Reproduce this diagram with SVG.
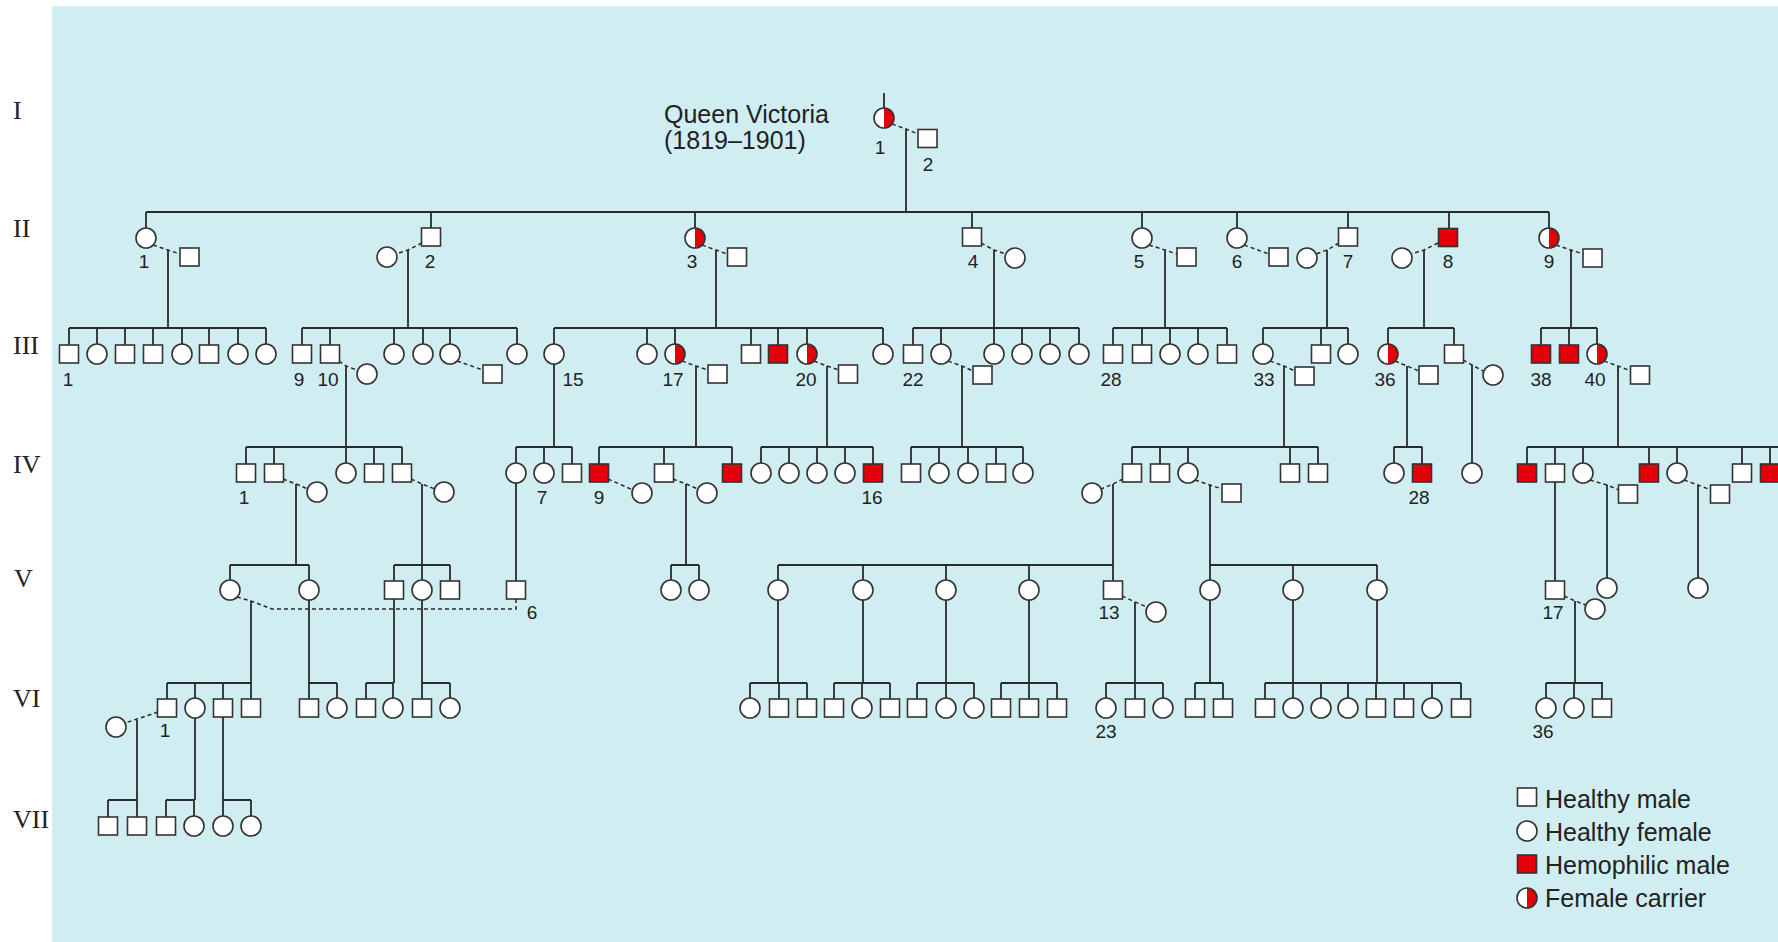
<svg xmlns="http://www.w3.org/2000/svg" xmlns:xlink="http://www.w3.org/1999/xlink" width="1778" height="942" viewBox="0 0 1778 942">
<style>
.ln{stroke:#2a2a2a;stroke-width:1.8;fill:none}
.ds{stroke:#2a2a2a;stroke-width:1.5;stroke-dasharray:4 3;fill:none}
.num{font-family:"Liberation Sans",Arial,sans-serif;font-size:19px;fill:#222;text-anchor:middle}
.rom{font-family:"Liberation Serif","Times New Roman",serif;font-size:26px;fill:#222}
.big{font-family:"Liberation Sans",Arial,sans-serif;font-size:25px;fill:#222}
</style>
<defs>
<rect id="M" x="-9.5" y="-9" width="19" height="18" fill="#fff" stroke="#333" stroke-width="1.6"/>
<rect id="H" x="-9.5" y="-9" width="19" height="18" fill="#e3000b" stroke="#333" stroke-width="1.6"/>
<circle id="F" r="10" fill="#fff" stroke="#333" stroke-width="1.6"/>
<g id="C"><circle r="10" fill="#fff"/><path d="M0,-10A10,10 0 0 1 0,10Z" fill="#e3000b"/><circle r="10" fill="none" stroke="#333" stroke-width="1.6"/></g>
</defs>
<rect width="1778" height="942" fill="#fff"/>
<rect x="52" y="6" width="1726" height="936" fill="#d0eef2"/>
<g id="gen-labels">
<text class="rom" x="13" y="119">I</text>
<text class="rom" x="13" y="237">II</text>
<text class="rom" x="13" y="354">III</text>
<text class="rom" x="13" y="473">IV</text>
<text class="rom" x="14" y="587">V</text>
<text class="rom" x="13" y="707">VI</text>
<text class="rom" x="13" y="828">VII</text>
</g>
<g id="title"><text class="big" x="664" y="123">Queen Victoria</text><text class="big" x="664" y="149">(1819–1901)</text></g>
<g id="connectors">
<path class="ln" d="M884,93V108 M906,129V212 M146,212H1549 M146,212V228 M431,212V228 M695,212V228 M972,212V228 M1142,212V228 M1237,212V228 M1348,212V228 M1449,212V228 M1549,212V228"/>
<path class="ln" d="M168,250V328 M408,250V328 M716,250V328 M994,250V328 M1165,250V328 M1327,250V328 M1424,250V328 M1571,250V328"/>
<path class="ln" d="M69,328H266 M302,328H517 M554,328H883 M913,328H1079 M1113,328H1227 M1263,328H1348 M1388,328H1454 M1541,328H1597"/>
<path class="ln" d="M69,328V345 M97,328V345 M125,328V345 M153,328V345 M182,328V345 M209,328V345 M238,328V345 M266,328V345 M302,328V345 M330,328V345 M394,328V345 M423,328V345 M450,328V345 M517,328V345 M554,328V345 M647,328V345 M675,328V345 M751,328V345 M778,328V345 M807,328V345 M883,328V345 M913,328V345 M941,328V345 M994,328V345 M1022,328V345 M1050,328V345 M1079,328V345 M1113,328V345 M1142,328V345 M1170,328V345 M1198,328V345 M1227,328V345 M1263,328V345 M1321,328V345 M1348,328V345 M1388,328V345 M1454,328V345 M1541,328V345 M1569,328V345 M1597,328V345"/>
<path class="ln" d="M346,366V447 M554,364V447 M696,366V447 M827,366V447 M962,366V447 M1284,366V447 M1407,366V447 M1472,365V463 M1618,366V447"/>
<path class="ln" d="M246,447H402 M516,447H572 M599,447H732 M761,447H873 M911,447H1023 M1132,447H1318 M1394,447H1422 M1527,447H1778"/>
<path class="ln" d="M246,447V464 M274,447V464 M346,447V464 M374,447V464 M402,447V464 M516,447V464 M544,447V464 M572,447V464 M599,447V464 M664,447V464 M732,447V464 M761,447V464 M789,447V464 M817,447V464 M845,447V464 M873,447V464 M911,447V464 M939,447V464 M968,447V464 M996,447V464 M1023,447V464 M1132,447V464 M1160,447V464 M1188,447V464 M1290,447V464 M1318,447V464 M1394,447V464 M1422,447V464 M1527,447V464 M1555,447V464 M1583,447V464 M1649,447V464 M1677,447V464 M1742,447V464 M1770,447V464"/>
<path class="ln" d="M296,484V565 M422,484V565 M516,483V581 M686,484V565 M1113,484V565 M1210,485V565 M1555,482V581 M1607,485V578 M1698,485V578"/>
<path class="ln" d="M230,565H309 M394,565H450 M671,565H699 M778,565H1113 M1210,565H1377"/>
<path class="ln" d="M230,565V580 M309,565V580 M394,565V581 M422,565V580 M450,565V581 M671,565V580 M699,565V580 M778,565V580 M863,565V580 M946,565V580 M1029,565V580 M1113,565V581 M1210,565V580 M1293,565V580 M1377,565V580"/>
<path class="ln" d="M251,601V683 M309,600V683 M394,599V683 M422,600V683 M778,600V683 M863,600V683 M946,600V683 M1029,600V683 M1135,602V683 M1210,600V683 M1293,600V683 M1377,600V683 M1575,601V683"/>
<path class="ln" d="M167,683H251 M309,683H337 M366,683H394 M422,683H450 M750,683H807 M834,683H890 M917,683H974 M1001,683H1057 M1106,683H1163 M1195,683H1223 M1265,683H1461 M1546,683H1603"/>
<path class="ln" d="M167,683V699 M195,683V699 M223,683V699 M251,683V699 M309,683V699 M337,683V699 M366,683V699 M393,683V699 M422,683V699 M450,683V699 M750,683V699 M779,683V699 M807,683V699 M834,683V699 M862,683V699 M890,683V699 M917,683V699 M946,683V699 M974,683V699 M1001,683V699 M1029,683V699 M1057,683V699 M1106,683V699 M1135,683V699 M1163,683V699 M1195,683V699 M1223,683V699 M1265,683V699 M1293,683V699 M1321,683V699 M1348,683V699 M1376,683V699 M1404,683V699 M1432,683V699 M1461,683V699 M1546,683V699 M1574,683V699 M1602,683V699"/>
<path class="ln" d="M137,720V800 M195,718V800 M223,717V800"/>
<path class="ln" d="M108,800H137 M166,800H194 M223,800H251 M108,800V817 M137,800V817 M166,800V817 M194,800V816 M223,800V816 M251,800V816"/>
<path class="ds" d="M892,124L906,129L918,134 M153,245L168,250L180,254 M422,243L408,250L396,254 M702,245L716,250L727,254 M981,243L994,250L1006,254 M1149,245L1165,250L1177,254 M1244,245L1269,254 M1339,243L1327,250L1316,254 M1438,243L1424,250L1411,254 M1556,245L1571,250L1583,254"/>
<path class="ds" d="M339,361L346,366L357,370 M457,361L483,370 M682,361L696,366L708,370 M814,361L827,366L839,370 M948,361L962,366L973,371 M1270,361L1284,366L1295,371 M1395,361L1407,366L1419,371 M1463,360L1472,365L1483,371 M1604,361L1618,366L1631,371"/>
<path class="ds" d="M283,479L296,484L308,489 M411,479L422,484L435,489 M608,479L633,490 M673,479L686,484L698,489 M1123,479L1113,484L1101,489 M1195,480L1210,485L1222,489 M1590,480L1607,485L1619,490 M1684,480L1698,485L1711,490"/>
<path class="ds" d="M237,597L251,601L272,609H516V599 M1122,596L1135,602L1147,607 M1564,596L1575,601L1586,605 M158,712L137,719L125,723"/>
</g>
<g id="I-1"><use href="#C" x="884" y="118"/><text class="num" x="880" y="154">1</text></g>
<g id="I-2"><use href="#M" x="927.5" y="138.5"/><text class="num" x="928" y="171">2</text></g>
<g id="II-1"><use href="#F" x="146" y="238"/><text class="num" x="144" y="268">1</text></g>
<g id="II-1-sp"><use href="#M" x="189.5" y="257"/></g>
<g id="II-2"><use href="#M" x="431" y="237"/><text class="num" x="430" y="268">2</text></g>
<g id="II-2-sp"><use href="#F" x="387" y="257"/></g>
<g id="II-3"><use href="#C" x="695" y="238"/><text class="num" x="692" y="268">3</text></g>
<g id="II-3-sp"><use href="#M" x="737" y="257"/></g>
<g id="II-4"><use href="#M" x="972" y="237"/><text class="num" x="973" y="268">4</text></g>
<g id="II-4-sp"><use href="#F" x="1015" y="258"/></g>
<g id="II-5"><use href="#F" x="1142" y="238"/><text class="num" x="1139" y="268">5</text></g>
<g id="II-5-sp"><use href="#M" x="1186.5" y="257"/></g>
<g id="II-6"><use href="#F" x="1237" y="238"/><text class="num" x="1237" y="268">6</text></g>
<g id="II-6-sp"><use href="#M" x="1278.5" y="257"/></g>
<g id="II-7"><use href="#M" x="1348" y="237"/><text class="num" x="1348" y="268">7</text></g>
<g id="II-7-sp"><use href="#F" x="1307" y="258"/></g>
<g id="II-8"><use href="#H" x="1448" y="237.5"/><text class="num" x="1448" y="268">8</text></g>
<g id="II-8-sp"><use href="#F" x="1402" y="258"/></g>
<g id="II-9"><use href="#C" x="1549" y="238"/><text class="num" x="1549" y="268">9</text></g>
<g id="II-9-sp"><use href="#M" x="1592.5" y="258"/></g>
<g id="III-1"><use href="#M" x="69" y="354"/><text class="num" x="68" y="386">1</text></g>
<g id="III-2"><use href="#F" x="97" y="354"/></g>
<g id="III-3"><use href="#M" x="125" y="354"/></g>
<g id="III-4"><use href="#M" x="153" y="354"/></g>
<g id="III-5"><use href="#F" x="182" y="354"/></g>
<g id="III-6"><use href="#M" x="209" y="354"/></g>
<g id="III-7"><use href="#F" x="238" y="354"/></g>
<g id="III-8"><use href="#F" x="266" y="354"/></g>
<g id="III-9"><use href="#M" x="302" y="354"/><text class="num" x="299" y="386">9</text></g>
<g id="III-10"><use href="#M" x="330" y="354"/><text class="num" x="328" y="386">10</text></g>
<g id="III-10-sp"><use href="#F" x="367" y="374"/></g>
<g id="III-11"><use href="#F" x="394" y="354"/></g>
<g id="III-12"><use href="#F" x="423" y="354"/></g>
<g id="III-13"><use href="#F" x="450" y="354"/></g>
<g id="III-13-sp"><use href="#M" x="492.5" y="374"/></g>
<g id="III-14"><use href="#F" x="517" y="354"/></g>
<g id="III-15"><use href="#F" x="554" y="354"/><text class="num" x="573" y="386">15</text></g>
<g id="III-16"><use href="#F" x="647" y="354"/></g>
<g id="III-17"><use href="#C" x="675" y="354"/><text class="num" x="673" y="386">17</text></g>
<g id="III-17-sp"><use href="#M" x="717.5" y="374"/></g>
<g id="III-18"><use href="#M" x="751" y="354"/></g>
<g id="III-19"><use href="#H" x="778" y="354"/></g>
<g id="III-20"><use href="#C" x="807" y="354"/><text class="num" x="806" y="386">20</text></g>
<g id="III-20-sp"><use href="#M" x="848" y="374"/></g>
<g id="III-21"><use href="#F" x="883" y="354"/></g>
<g id="III-22"><use href="#M" x="913" y="354"/><text class="num" x="913" y="386">22</text></g>
<g id="III-23"><use href="#F" x="941" y="354"/></g>
<g id="III-23-sp"><use href="#M" x="982.5" y="375"/></g>
<g id="III-24"><use href="#F" x="994" y="354"/></g>
<g id="III-25"><use href="#F" x="1022" y="354"/></g>
<g id="III-26"><use href="#F" x="1050" y="354"/></g>
<g id="III-27"><use href="#F" x="1079" y="354"/></g>
<g id="III-28"><use href="#M" x="1113" y="354"/><text class="num" x="1111" y="386">28</text></g>
<g id="III-29"><use href="#M" x="1142" y="354"/></g>
<g id="III-30"><use href="#F" x="1170" y="354"/></g>
<g id="III-31"><use href="#F" x="1198" y="354"/></g>
<g id="III-32"><use href="#M" x="1227" y="354"/></g>
<g id="III-33"><use href="#F" x="1263" y="354"/><text class="num" x="1264" y="386">33</text></g>
<g id="III-33-sp"><use href="#M" x="1304.5" y="376"/></g>
<g id="III-34"><use href="#M" x="1321" y="354"/></g>
<g id="III-35"><use href="#F" x="1348" y="354"/></g>
<g id="III-36"><use href="#C" x="1388" y="354"/><text class="num" x="1385" y="386">36</text></g>
<g id="III-36-sp"><use href="#M" x="1428.5" y="375"/></g>
<g id="III-37"><use href="#M" x="1454" y="354"/></g>
<g id="III-37-sp"><use href="#F" x="1493" y="375"/></g>
<g id="III-38"><use href="#H" x="1541" y="354"/><text class="num" x="1541" y="386">38</text></g>
<g id="III-39"><use href="#H" x="1569" y="354"/></g>
<g id="III-40"><use href="#C" x="1597" y="354"/><text class="num" x="1595" y="386">40</text></g>
<g id="III-40-sp"><use href="#M" x="1640" y="375"/></g>
<g id="IV-1"><use href="#M" x="246" y="473"/><text class="num" x="244" y="504">1</text></g>
<g id="IV-2"><use href="#M" x="274" y="473"/></g>
<g id="IV-2-sp"><use href="#F" x="317" y="492"/></g>
<g id="IV-3"><use href="#F" x="346" y="473"/></g>
<g id="IV-4"><use href="#M" x="374" y="473"/></g>
<g id="IV-5"><use href="#M" x="402" y="473"/></g>
<g id="IV-5-sp"><use href="#F" x="444" y="492"/></g>
<g id="IV-6"><use href="#F" x="516" y="473"/></g>
<g id="IV-7"><use href="#F" x="544" y="473"/><text class="num" x="542" y="504">7</text></g>
<g id="IV-8"><use href="#M" x="572" y="473"/></g>
<g id="IV-9"><use href="#H" x="599" y="473"/><text class="num" x="599" y="504">9</text></g>
<g id="IV-9-sp"><use href="#F" x="642" y="493"/></g>
<g id="IV-10"><use href="#M" x="664" y="473"/></g>
<g id="IV-10-sp"><use href="#F" x="707" y="493"/></g>
<g id="IV-11"><use href="#H" x="732" y="473"/></g>
<g id="IV-12"><use href="#F" x="761" y="473"/></g>
<g id="IV-13"><use href="#F" x="789" y="473"/></g>
<g id="IV-14"><use href="#F" x="817" y="473"/></g>
<g id="IV-15"><use href="#F" x="845" y="473"/></g>
<g id="IV-16"><use href="#H" x="873" y="473"/><text class="num" x="872" y="504">16</text></g>
<g id="IV-17"><use href="#M" x="911" y="473"/></g>
<g id="IV-18"><use href="#F" x="939" y="473"/></g>
<g id="IV-19"><use href="#F" x="968" y="473"/></g>
<g id="IV-20"><use href="#M" x="996" y="473"/></g>
<g id="IV-21"><use href="#F" x="1023" y="473"/></g>
<g id="IV-22"><use href="#M" x="1132" y="473"/></g>
<g id="IV-22-sp"><use href="#F" x="1092" y="493"/></g>
<g id="IV-23"><use href="#M" x="1160" y="473"/></g>
<g id="IV-24"><use href="#F" x="1188" y="473"/></g>
<g id="IV-24-sp"><use href="#M" x="1231.5" y="493"/></g>
<g id="IV-25"><use href="#M" x="1290" y="473"/></g>
<g id="IV-26"><use href="#M" x="1318" y="473"/></g>
<g id="IV-27"><use href="#F" x="1394" y="473"/></g>
<g id="IV-28"><use href="#H" x="1422" y="473"/><text class="num" x="1419" y="504">28</text></g>
<g id="IV-29"><use href="#F" x="1472" y="473"/></g>
<g id="IV-30"><use href="#H" x="1527" y="473"/></g>
<g id="IV-31"><use href="#M" x="1555" y="473"/></g>
<g id="IV-32"><use href="#F" x="1583" y="473"/></g>
<g id="IV-32-sp"><use href="#M" x="1628" y="494"/></g>
<g id="IV-33"><use href="#H" x="1649" y="473"/></g>
<g id="IV-34"><use href="#F" x="1677" y="473"/></g>
<g id="IV-34-sp"><use href="#M" x="1720" y="494"/></g>
<g id="IV-35"><use href="#M" x="1742" y="473"/></g>
<g id="IV-36"><use href="#H" x="1770" y="473"/></g>
<g id="V-1"><use href="#F" x="230" y="590"/></g>
<g id="V-2"><use href="#F" x="309" y="590"/></g>
<g id="V-3"><use href="#M" x="394" y="590"/></g>
<g id="V-4"><use href="#F" x="422" y="590"/></g>
<g id="V-5"><use href="#M" x="450" y="590"/></g>
<g id="V-6"><use href="#M" x="516" y="590"/><text class="num" x="532" y="619">6</text></g>
<g id="V-7"><use href="#F" x="671" y="590"/></g>
<g id="V-8"><use href="#F" x="699" y="590"/></g>
<g id="V-9"><use href="#F" x="778" y="590"/></g>
<g id="V-10"><use href="#F" x="863" y="590"/></g>
<g id="V-11"><use href="#F" x="946" y="590"/></g>
<g id="V-12"><use href="#F" x="1029" y="590"/></g>
<g id="V-13"><use href="#M" x="1113" y="590"/><text class="num" x="1109" y="619">13</text></g>
<g id="V-13-sp"><use href="#F" x="1156" y="612"/></g>
<g id="V-14"><use href="#F" x="1210" y="590"/></g>
<g id="V-15"><use href="#F" x="1293" y="590"/></g>
<g id="V-16"><use href="#F" x="1377" y="590"/></g>
<g id="V-17"><use href="#M" x="1555" y="590"/><text class="num" x="1553" y="619">17</text></g>
<g id="V-17-sp"><use href="#F" x="1595" y="609"/></g>
<g id="V-18"><use href="#F" x="1607" y="588"/></g>
<g id="V-19"><use href="#F" x="1698" y="588"/></g>
<g id="VI-1"><use href="#M" x="167" y="708"/><text class="num" x="165" y="737">1</text></g>
<g id="VI-1-sp"><use href="#F" x="116" y="727"/></g>
<g id="VI-2"><use href="#F" x="195" y="708"/></g>
<g id="VI-3"><use href="#M" x="223" y="708"/></g>
<g id="VI-4"><use href="#M" x="251" y="708"/></g>
<g id="VI-5"><use href="#M" x="309" y="708"/></g>
<g id="VI-6"><use href="#F" x="337" y="708"/></g>
<g id="VI-7"><use href="#M" x="366" y="708"/></g>
<g id="VI-8"><use href="#F" x="393" y="708"/></g>
<g id="VI-9"><use href="#M" x="422" y="708"/></g>
<g id="VI-10"><use href="#F" x="450" y="708"/></g>
<g id="VI-11"><use href="#F" x="750" y="708"/></g>
<g id="VI-12"><use href="#M" x="779" y="708"/></g>
<g id="VI-13"><use href="#M" x="807" y="708"/></g>
<g id="VI-14"><use href="#M" x="834" y="708"/></g>
<g id="VI-15"><use href="#F" x="862" y="708"/></g>
<g id="VI-16"><use href="#M" x="890" y="708"/></g>
<g id="VI-17"><use href="#M" x="917" y="708"/></g>
<g id="VI-18"><use href="#F" x="946" y="708"/></g>
<g id="VI-19"><use href="#F" x="974" y="708"/></g>
<g id="VI-20"><use href="#M" x="1001" y="708"/></g>
<g id="VI-21"><use href="#M" x="1029" y="708"/></g>
<g id="VI-22"><use href="#M" x="1057" y="708"/></g>
<g id="VI-23"><use href="#F" x="1106" y="708"/><text class="num" x="1106" y="738">23</text></g>
<g id="VI-24"><use href="#M" x="1135" y="708"/></g>
<g id="VI-25"><use href="#F" x="1163" y="708"/></g>
<g id="VI-26"><use href="#M" x="1195" y="708"/></g>
<g id="VI-27"><use href="#M" x="1223" y="708"/></g>
<g id="VI-28"><use href="#M" x="1265" y="708"/></g>
<g id="VI-29"><use href="#F" x="1293" y="708"/></g>
<g id="VI-30"><use href="#F" x="1321" y="708"/></g>
<g id="VI-31"><use href="#F" x="1348" y="708"/></g>
<g id="VI-32"><use href="#M" x="1376" y="708"/></g>
<g id="VI-33"><use href="#M" x="1404" y="708"/></g>
<g id="VI-34"><use href="#F" x="1432" y="708"/></g>
<g id="VI-35"><use href="#M" x="1461" y="708"/></g>
<g id="VI-36"><use href="#F" x="1546" y="708"/><text class="num" x="1543" y="738">36</text></g>
<g id="VI-37"><use href="#F" x="1574" y="708"/></g>
<g id="VI-38"><use href="#M" x="1602" y="708"/></g>
<g id="VII-1"><use href="#M" x="108" y="826"/></g>
<g id="VII-2"><use href="#M" x="137" y="826"/></g>
<g id="VII-3"><use href="#M" x="166" y="826"/></g>
<g id="VII-4"><use href="#F" x="194" y="826"/></g>
<g id="VII-5"><use href="#F" x="223" y="826"/></g>
<g id="VII-6"><use href="#F" x="251" y="826"/></g>
<g id="legend">
<use href="#M" x="1527" y="797"/><text class="big" x="1545" y="808">Healthy male</text>
<use href="#F" x="1527" y="831"/><text class="big" x="1545" y="841">Healthy female</text>
<use href="#H" x="1527" y="864"/><text class="big" x="1545" y="874">Hemophilic male</text>
<use href="#C" x="1527" y="898"/><text class="big" x="1545" y="907">Female carrier</text>
</g>
</svg>
